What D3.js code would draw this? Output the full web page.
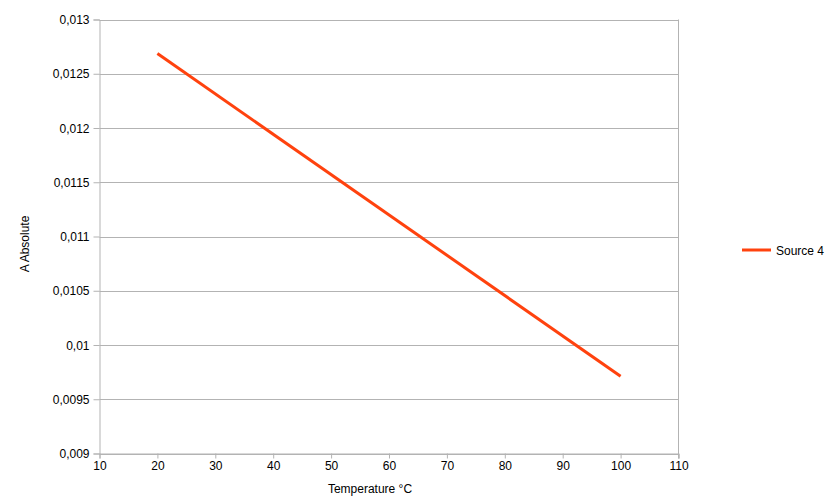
<!DOCTYPE html>
<html><head><meta charset="utf-8">
<script src="https://cdn.jsdelivr.net/npm/d3@7"></script>
<style>body{margin:0;background:#fff}svg{display:block}text{font-family:"Liberation Sans",Arial,sans-serif}</style>
</head><body><svg id="c" width="840" height="501"></svg>
<script>
const temperature = [20, 100];
const absorbance = [0.012686, 0.009712];
const xTicks = [10,20,30,40,50,60,70,80,90,100,110];
const yTicks = [0.009,0.0095,0.01,0.0105,0.011,0.0115,0.012,0.0125,0.013];
const seriesName = "Source 4";

const svg = d3.select("#c");
const x = d3.scaleLinear().domain([10,110]).range([99.5,678.5]);
const y = d3.scaleLinear().domain([0.009,0.013]).range([453.5,19.5]);
const fmt = v => String(+v.toFixed(5)).replace(".", ",");

// grid
svg.append("g").selectAll("line").data(yTicks).join("line")
  .attr("x1",x(10)).attr("x2",x(110))
  .attr("y1",d=>Math.round(y(d))+0.5).attr("y2",d=>Math.round(y(d))+0.5)
  .attr("stroke","#b3b3b3").attr("stroke-width",1);
// right border
svg.append("line").attr("x1",678.5).attr("x2",678.5).attr("y1",y(0.013)).attr("y2",y(0.009)+5)
  .attr("stroke","#b3b3b3");

const yAxis = svg.append("g").attr("transform","translate(99.5,0)")
  .call(d3.axisLeft(y).tickValues(yTicks).tickFormat(fmt).tickSize(6).tickPadding(4));
const xAxis = svg.append("g").attr("transform","translate(0,453.5)")
  .call(d3.axisBottom(x).tickValues(xTicks).tickSize(5).tickPadding(3));
[yAxis,xAxis].forEach(a=>{
  a.select(".domain").attr("stroke","#b3b3b3");
  a.selectAll(".tick line").attr("stroke","#b3b3b3");
  a.selectAll("text").attr("fill","#000").style("font-size","12px").style("font-family","Liberation Sans, Arial, sans-serif");
});
yAxis.selectAll(".tick text").attr("dy","0.35em");

// line
const pts = temperature.map((t,i)=>[t,absorbance[i]]);
svg.append("path").datum(pts)
  .attr("d", d3.line().x(d=>x(d[0])).y(d=>y(d[1])))
  .attr("fill","none").attr("stroke","#ff420e").attr("stroke-width",3);

// axis titles
svg.append("text").attr("transform","translate(28.5,244) rotate(-90)").attr("text-anchor","middle")
  .style("font-size","12px").text("A Absolute");
svg.append("text").attr("x",370).attr("y",493).attr("text-anchor","middle")
  .style("font-size","12px").text("Temperature °C");

// legend
svg.append("line").attr("x1",742).attr("x2",771).attr("y1",250).attr("y2",250)
  .attr("stroke","#ff420e").attr("stroke-width",3);
svg.append("text").attr("x",776).attr("y",254.5).style("font-size","12px").text(seriesName);
</script></body></html>
